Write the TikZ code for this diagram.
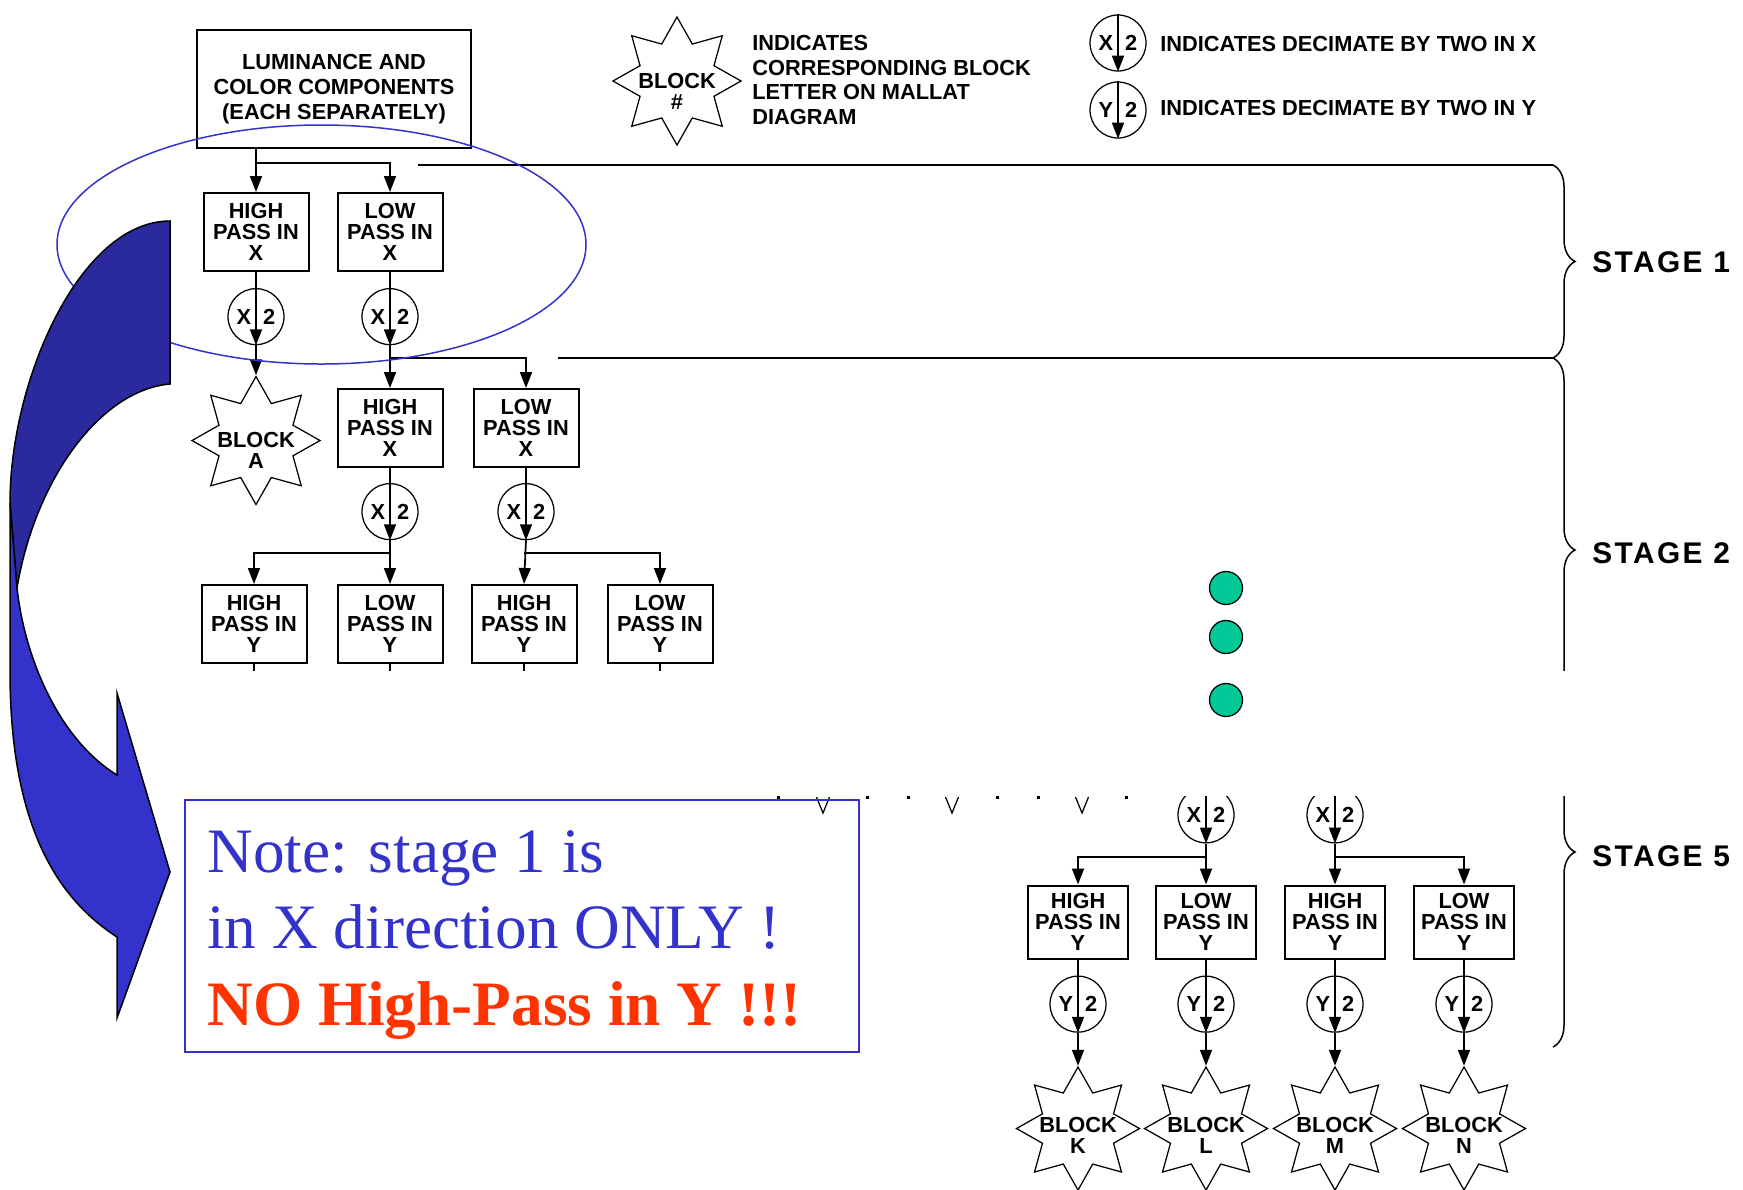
\documentclass[tikz,border=0pt]{standalone}
\usepackage{fontspec}
\setmainfont{Liberation Serif}
\setsansfont{Liberation Sans}
\newfontfamily\stagefont[LetterSpace=8]{Liberation Sans}
\usepackage{xcolor}
\usepackage{tikz}
\usetikzlibrary{arrows.meta,positioning,shapes.geometric,decorations.pathreplacing}
\definecolor{noteblue}{HTML}{3333CC}
\definecolor{backblue}{HTML}{2A2A9E}
\definecolor{alert}{HTML}{FF3300}
\definecolor{dotgreen}{HTML}{00C896}
\newcommand{\boxfont}{\sffamily\bfseries\fontsize{12.4}{12}\selectfont}
\tikzset{
  filt/.style={draw,line width=0.4mm,minimum width=21mm,minimum height=15.6mm,inner sep=0pt,align=center,font=\boxfont},
  filtsm/.style={filt,minimum width=20mm,minimum height=14.6mm},
  dec/.style={circle,draw,line width=0.25mm,minimum size=11.2mm,inner sep=0pt,font=\boxfont},
  blk/.style={star,star points=8,star point ratio=1.6,draw,line width=0.25mm,minimum size=25.6mm,inner sep=0pt},
  blktxt/.style={align=center,font=\boxfont,yshift=-2mm},
  arr/.style={-{Triangle[length=3.2mm,width=2.4mm]},line width=0.35mm},
  wire/.style={line width=0.35mm},
  sepline/.style={line width=0.3mm},
  brc/.style={decorate,decoration={brace,amplitude=4.4mm},line width=0.3mm},
  stagelbl/.style={anchor=west,inner sep=0pt,font=\stagefont\bfseries\fontsize{17}{17}\selectfont},
  legtxt/.style={anchor=west,inner sep=0pt,align=left,font=\sffamily\bfseries\fontsize{12.4}{13.9}\selectfont},
  gdot/.style={circle,draw,line width=0.25mm,fill=dotgreen,minimum size=6.6mm,inner sep=0pt},
  notetxt/.style={anchor=base west,inner sep=0pt,text=noteblue,font=\fontsize{36}{43}\selectfont},
}

\begin{document}
\begin{tikzpicture}[x=0.2mm,y=-0.2mm]
  \useasboundingbox (0,0) rectangle (1743,1189);

  % legend
  \node[blk,label={[blktxt]center:{BLOCK\\\#}}] (keyblk) at (677,81) {};
  \node[legtxt] (keytxt) at (752,80) {INDICATES\\CORRESPONDING BLOCK\\LETTER ON MALLAT\\DIAGRAM};
  \node[dec] (keyx) at (1118,43) {X\hspace{2.4mm}2};
  \node[dec] (keyy) at (1118,110) {Y\hspace{2.4mm}2};
  \draw[arr] (keyx.north) -- (keyx.south);
  \draw[arr] (keyy.north) -- (keyy.south);
  \node[legtxt] (keyxtxt) at (1160,44) {INDICATES DECIMATE BY TWO IN X};
  \node[legtxt] (keyytxt) at (1160,108) {INDICATES DECIMATE BY TWO IN Y};

  % stage 1
  \node[filt,minimum width=54.8mm,minimum height=23.6mm,font=\sffamily\bfseries\fontsize{12.4}{14.2}\selectfont] (lum) at (334,89) {LUMINANCE AND\\COLOR COMPONENTS\\(EACH SEPARATELY)};
  \node[filt] (hx1) at (256,232) {HIGH\\PASS IN\\X};
  \node[filt] (lx1) at (390,232) {LOW\\PASS IN\\X};
  \node[dec,below=3.2mm of hx1] (dx1) {X\hspace{2.4mm}2};
  \node[dec,below=3.2mm of lx1] (dx2) {X\hspace{2.4mm}2};
  \node[blk,below=6mm of dx1,label={[blktxt]center:{BLOCK\\A}}] (blkA) {};
  \coordinate (s1) at (256,163);
  \draw[arr] (lum.south -| s1) -- (hx1.north);
  \draw[arr] (s1) -| (lx1.north);
  \draw[arr] (hx1.south) -- (dx1.south);
  \draw[arr] (lx1.south) -- (dx2.south);
  \draw[arr] (dx1.south) -- (blkA.north);

  % stage 2
  \node[filt] (hx2) at (390,428) {HIGH\\PASS IN\\X};
  \node[filt,right=5.8mm of hx2] (lx2) {LOW\\PASS IN\\X};
  \node[dec,below=3mm of hx2] (dx3) {X\hspace{2.4mm}2};
  \node[dec,below=3mm of lx2] (dx4) {X\hspace{2.4mm}2};
  \node[filt] (hy1) at (254,624) {HIGH\\PASS IN\\Y};
  \node[filt] (ly1) at (390,624) {LOW\\PASS IN\\Y};
  \node[filt] (hy2) at (524,624) {HIGH\\PASS IN\\Y};
  \node[filt] (ly2) at (660,624) {LOW\\PASS IN\\Y};
  \coordinate (s2) at (390,358);
  \coordinate (s3) at (390,553);
  \coordinate (s4) at (524,553);
  \draw[arr] (dx2.south) -- (hx2.north);
  \draw[arr] (s2) -| (lx2.north);
  \draw[arr] (hx2.south) -- (dx3.south);
  \draw[arr] (lx2.south) -- (dx4.south);
  \draw[arr] (dx3.south) -- (ly1.north);
  \draw[arr] (s3) -| (hy1.north);
  \draw[arr] (dx4.south) -- (hy2.north);
  \draw[arr] (s4) -| (ly2.north);
  \foreach \n in {hy1,ly1,hy2,ly2}
    \draw[wire] (\n.south) -- ++(0,7);

  % stages and braces
  \coordinate (st1a) at (418,165);
  \coordinate (st1) at (1553,165);
  \coordinate (st2a) at (558,358);
  \coordinate (st2) at (1553,358);
  \draw[sepline] (st1a) -- (st1);
  \draw[sepline] (st2a) -- (st2);
  \draw[brc] (st1) -- (st2);
  \begin{scope}
    \clip (1500,0) rectangle (1743,670);
    \draw[brc] (st2) -- (1553,742);
  \end{scope}
  \begin{scope}
    \clip (1500,796) rectangle (1743,1189);
    \draw[brc] (1553,657) -- (1553,1047);
  \end{scope}
  \node[stagelbl] (stg1) at (1592,262) {STAGE 1};
  \node[stagelbl] (stg2) at (1592,553) {STAGE 2};
  \node[stagelbl] (stg5) at (1592,856) {STAGE 5};

  \node[gdot] (g1) at (1226,588) {};
  \node[gdot] (g2) at (1226,637) {};
  \node[gdot] (g3) at (1226,700) {};

  % stage 5
  \node[filtsm] (hy3) at (1078,922) {HIGH\\PASS IN\\Y};
  \node[filtsm] (ly3) at (1206,922) {LOW\\PASS IN\\Y};
  \node[filtsm] (hy4) at (1335,922) {HIGH\\PASS IN\\Y};
  \node[filtsm] (ly4) at (1464,922) {LOW\\PASS IN\\Y};
  \coordinate (cut) at (0,796);
  \begin{scope}
    \clip (700,796) rectangle (1743,1189);
    \node[dec,above=8.2mm of ly3] (dx5) {X\hspace{2.4mm}2};
    \node[dec,above=8.2mm of hy4] (dx6) {X\hspace{2.4mm}2};
  \end{scope}
  \draw[arr] (dx5.south |- cut) -- (dx5.south);
  \draw[arr] (dx6.south |- cut) -- (dx6.south);
  \coordinate (s5) at (1206,857);
  \coordinate (s6) at (1335,857);
  \draw[arr] (dx5.south) -- (ly3.north);
  \draw[arr] (s5) -| (hy3.north);
  \draw[arr] (dx6.south) -- (hy4.north);
  \draw[arr] (s6) -| (ly4.north);
  \foreach \n/\b in {hy3/K,ly3/L,hy4/M,ly4/N} {
    \node[dec,below=3.2mm of \n] (d\n) {Y\hspace{2.4mm}2};
    \node[blk,minimum size=24.6mm,below=6.6mm of d\n,label={[blktxt,yshift=0.6mm]center:{BLOCK\\\b}}] (blk\b) {};
    \draw[arr] (\n.south) -- (d\n.south);
    \draw[arr] (d\n.south) -- (blk\b.north);
  }
  \foreach \x in {778,867,908,997,1038,1126}
    \fill (\x-1.5,796) rectangle (\x+1.5,798.5);
  \foreach \x in {823,952,1082}
    \draw[line width=0.25mm] (\x-6.5,797) -- (\x,813) -- (\x+6.5,797);

  % note
  \draw[noteblue,line width=0.3mm] (321.5,244.5) ellipse [x radius=52.9mm,y radius=23.9mm];
  \filldraw[fill=backblue,draw=black,line width=0.3mm] (170,221) .. controls (80,221) and (10,380) .. (10,503) -- (17,588) .. controls (35,480) and (100,390) .. (170,384) -- cycle;
  \filldraw[fill=noteblue,draw=black,line width=0.3mm] (10,503) -- (10,671) .. controls (10,830) and (60,900) .. (117,937) -- (117,1018) -- (170,872) -- (117,693) -- (117,775) .. controls (60,740) and (25,660) .. (17,588) -- cycle;
  \node[draw=noteblue,line width=0.4mm,minimum width=134.8mm,minimum height=50.4mm,inner sep=0pt] (note) at (522,926) {};
  \node[notetxt] (note1) at (207,872) {Note: stage 1 is};
  \node[notetxt] (note2) at (207,948) {in X direction ONLY !};
  \node[notetxt,text=alert,font=\bfseries\fontsize{36}{43}\selectfont] (note3) at (207,1025) {NO High-Pass in Y !!!};
\end{tikzpicture}
\end{document}
